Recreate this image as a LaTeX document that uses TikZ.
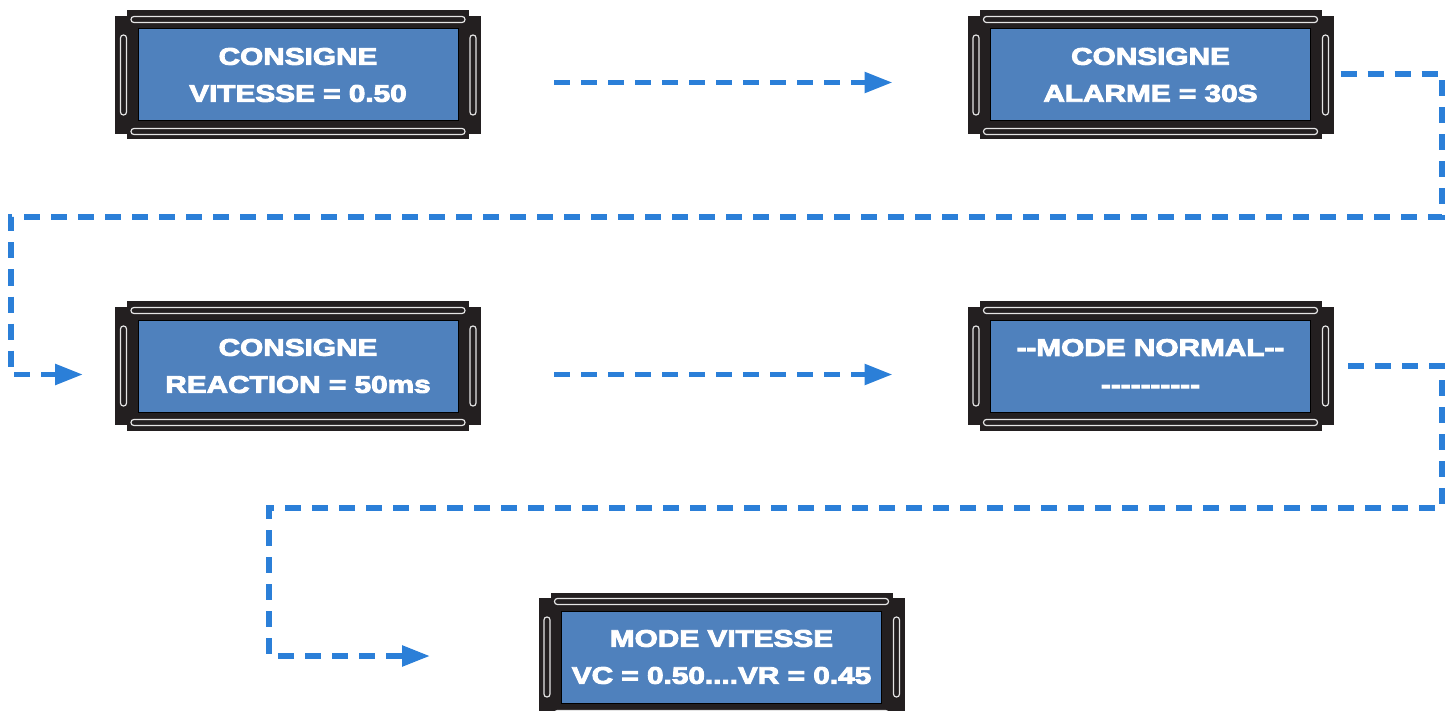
\documentclass[tikz,border=0pt]{standalone}
\usepackage{fontspec}
\usetikzlibrary{arrows.meta,calc}
\newfontfamily\lcdfont{Liberation Sans}[FakeStretch=1.24, BoldFeatures={FakeBold=4}]
\definecolor{framec}{HTML}{231F20}
\definecolor{screenc}{HTML}{4F81BD}
\definecolor{flowc}{HTML}{2B7FD8}
\newcommand\hy{-\kern0pt}
\tikzset{
  lcdbody/.style={fill=framec},
  rail/.style={draw=gray!20, line width=1.2pt, fill=framec, rounded corners=2.9pt},
  screenbox/.style={draw=black, line width=1pt, fill=screenc, minimum width=320pt,
    minimum height=92pt, inner sep=0pt, text=white, align=center,
    font=\lcdfont\bfseries\fontsize{24}{37}\selectfont},
  flowline/.style={draw=flowc, line width=5.5pt, dash pattern=on 16pt off 11pt,
    -{Triangle[length=28pt,width=20pt]}},
}
\newcommand\lcdmodule[4]{%
  \begin{scope}[shift={(#2,#3)}]
    \fill[lcdbody] (-183,-59) rectangle (183,59);
    \fill[lcdbody] (-171,-64.5) rectangle (171,64.5);
    \draw[rail] (-167,-58.5) rectangle (167,-52.5);
    \draw[rail] (-167,53.5) rectangle (167,59.5);
    \draw[rail] (-177.5,-40) rectangle (-171.5,40);
    \draw[rail] (172,-40) rectangle (178,40);
  \end{scope}
  \node[screenbox] (#1) at (#2,#3) {#4};
}
\begin{document}
\begin{tikzpicture}[x=1pt,y=-1pt]
\useasboundingbox (0,0) rectangle (1456,711);
\clip (0,0) rectangle (1456,711);
\lcdmodule{b1}{298}{75}{CONSIGNE\\VITESSE = 0.50}
\lcdmodule{b2}{1150.5}{75}{CONSIGNE\\ALARME = 30S}
\lcdmodule{b3}{298}{366}{CONSIGNE\\REACTION = 50ms}
\lcdmodule{b4}{1150.5}{366}{\hy\hy MODE NORMAL\hy\hy\\\hy\hy\hy\hy\hy\hy\hy\hy\hy\hy}
\lcdmodule{b5}{721.5}{657}{MODE VITESSE\\VC = 0.50....VR = 0.45}
\draw[flowline] ($(b1.center)+(256,7.5)$) -- ($(b2.center)+(-258,7.5)$);
\draw[flowline] ($(b2.center)+(190,-1)$) -- (1442,74) |- (11,217) |- ($(b3.center)+(-215,8.5)$);
\draw[flowline] ($(b3.center)+(256,8.5)$) -- ($(b4.center)+(-258,8.5)$);
\draw[flowline] ($(b4.center)+(197.5,0)$) -- (1442,366) |- (269,508) |- ($(b5.center)+(-291.5,-1)$);
\end{tikzpicture}
\end{document}
